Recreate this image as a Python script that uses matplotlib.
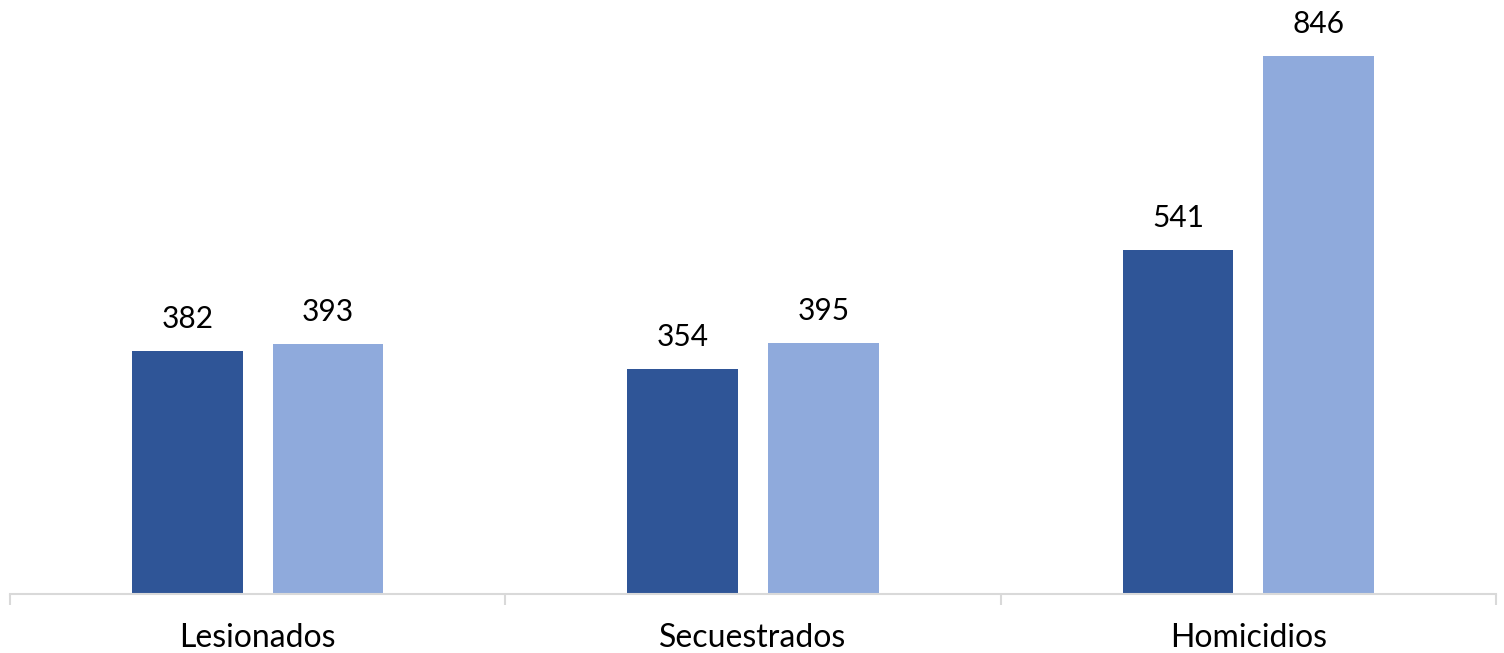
import matplotlib
matplotlib.use("Agg")
import matplotlib.pyplot as plt
import numpy as np

categories = ["Lesionados", "Secuestrados", "Homicidios"]
series_a = [382, 354, 541]
series_b = [393, 395, 846]

plt.rcParams['font.family'] = ['Lato', 'DejaVu Sans']

fig = plt.figure(figsize=(15.04, 6.53), dpi=100)
ax = fig.add_axes([10/1504, 59/653, (1496 - 10)/1504, 1 - 22/653 - 59/653])

x = np.arange(len(categories))
w = 0.224
off = 0.142
ba = ax.bar(x - off, series_a, width=w, color="#2F5597")
bb = ax.bar(x + off, series_b, width=w, color="#8FAADC")

for bars, vals in ((ba, series_a), (bb, series_b)):
    for r, v in zip(bars, vals):
        ax.annotate(str(v), (r.get_x() + r.get_width()/2, v), xytext=(0, 13),
                    textcoords="offset points", ha="center", va="bottom",
                    fontsize=21.5, color="#000000")

ax.set_xlim(-0.5, 2.5)
ax.set_ylim(0, 900)
for s in ["top", "right", "left"]:
    ax.spines[s].set_visible(False)
ax.spines["bottom"].set_color("#D9D9D9")
ax.spines["bottom"].set_linewidth(1.5)
ax.set_yticks([])
ax.set_xticks([-0.5, 0.5, 1.5, 2.5])
ax.set_xticklabels([])
ax.set_xticks(x, minor=True)
ax.set_xticklabels(categories, minor=True, fontsize=23)
ax.tick_params(axis="x", which="major", length=8, color="#D9D9D9", width=1.5)
ax.tick_params(axis="x", which="minor", length=0, pad=21)

fig.savefig("out.png", dpi=100)
